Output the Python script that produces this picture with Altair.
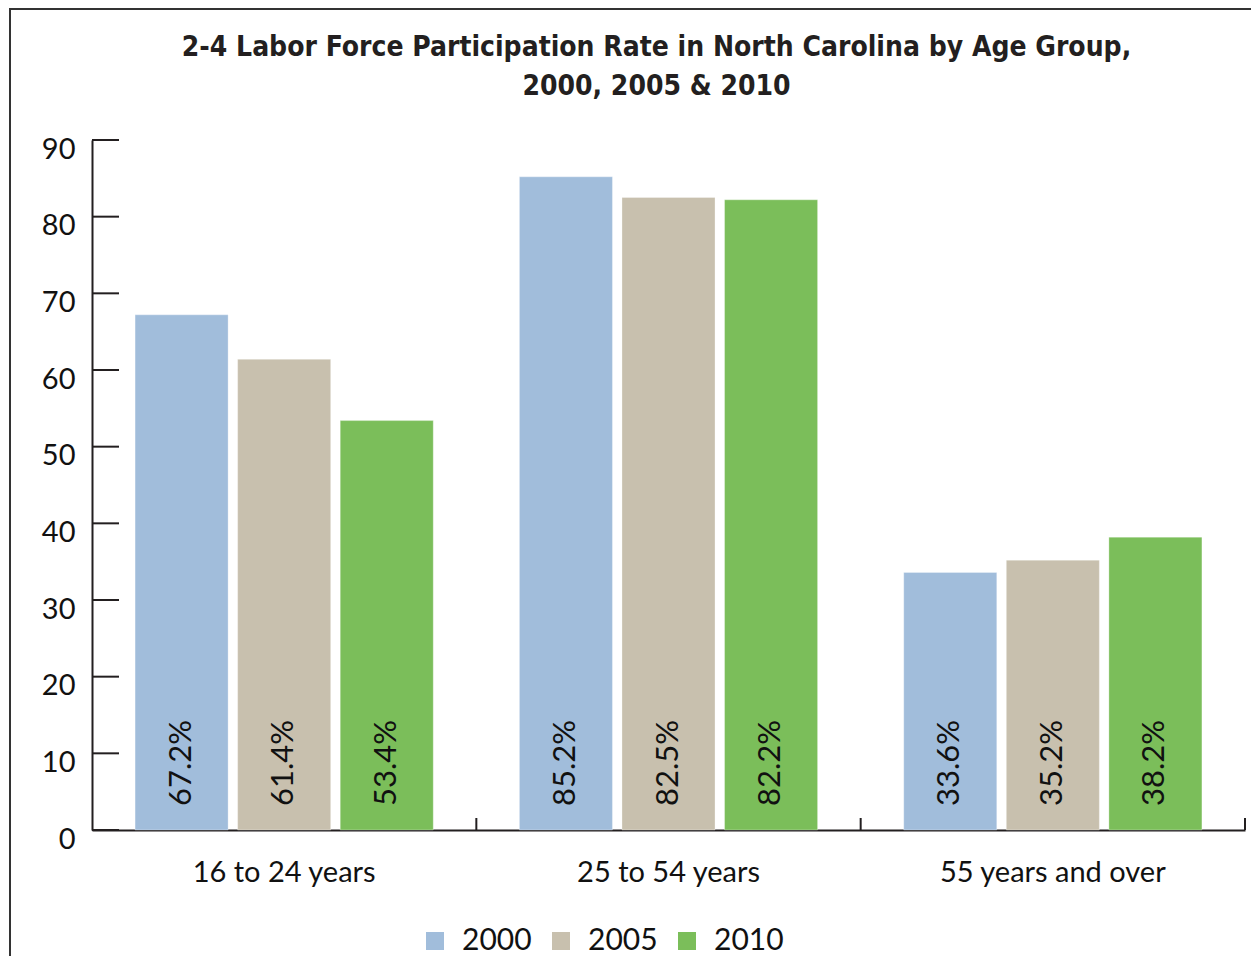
import altair as alt
import pandas as pd

groups = ["16 to 24 years", "25 to 54 years", "55 years and over"]
years = ["2000", "2005", "2010"]
values = {
    "2000": [67.2, 85.2, 33.6],
    "2005": [61.4, 82.5, 35.2],
    "2010": [53.4, 82.2, 38.2],
}
colors = ["#A1BDDB", "#C8C0AE", "#7BBE5A"]
y_ticks = [0, 10, 20, 30, 40, 50, 60, 70, 80, 90]
title_lines = ["2-4 Labor Force Participation Rate in North Carolina by Age Group,",
               "2000, 2005 & 2010"]

rows = []
for y in years:
    for g, v in zip(groups, values[y]):
        rows.append({"group": g, "year": y, "value": v, "label": f"{v:.1f}%"})
df = pd.DataFrame(rows)

AX = "#231f20"
FONT = "Lato"
W, H = 1153, 690

x_scale = alt.Scale(domain=groups, paddingInner=0, paddingOuter=0)
y_scale = alt.Scale(domain=[0, 90], nice=False, zero=True)

x_enc = alt.X("group:N", sort=groups, title=None, scale=x_scale,
              axis=alt.Axis(ticks=False, domainColor=AX, domainWidth=2, labelAngle=0,
                            labelFontSize=29, labelFont=FONT, labelColor="#111",
                            labelPadding=28, labelLimit=0, grid=False, title=None))
xo_enc = alt.XOffset("year:N", sort=years,
                     scale=alt.Scale(domain=years, paddingInner=0.093, paddingOuter=0.42))

bars = alt.Chart(df).mark_bar(stroke="white", strokeOpacity=0.3, strokeWidth=1).encode(
    x=x_enc,
    xOffset=xo_enc,
    y=alt.Y("value:Q", scale=y_scale, title=None,
            axis=alt.Axis(values=y_ticks, ticks=False, domainColor=AX, domainWidth=2,
                          labelFontSize=29, labelFont=FONT, labelColor="#111",
                          labelPadding=17, labelBaseline="top", labelOffset=-5,
                          labelFlush=False, grid=False, title=None)),
    color=alt.Color("year:N", sort=years,
                    scale=alt.Scale(domain=years, range=colors),
                    legend=alt.Legend(title=None, orient="none", direction="horizontal",
                                      legendX=328, legendY=786,
                                      symbolType="square", symbolSize=324,
                                      symbolStrokeWidth=0, labelFontSize=30,
                                      labelFont=FONT, labelColor="#111",
                                      labelOffset=12, columnPadding=14)),
)

texts = alt.Chart(df).mark_text(angle=270, align="left", baseline="middle", dx=24,
                                fontSize=31, font=FONT, color="#111").encode(
    x=alt.X("group:N", sort=groups, title=None),
    xOffset=alt.XOffset("year:N", sort=years),
    y=alt.datum(0),
    text="label:N",
)

ytick_df = pd.DataFrame({"v": y_ticks})
yticks = alt.Chart(ytick_df).mark_rule(color=AX, strokeWidth=2).encode(
    y=alt.Y("v:Q", title=None),
    x=alt.value(0),
    x2=alt.value(27),
)

xtick_df = pd.DataFrame({"group": groups})
xticks = alt.Chart(xtick_df).mark_rule(color=AX, strokeWidth=2).encode(
    x=alt.X("group:N", sort=groups, bandPosition=1, title=None),
    y=alt.value(H - 12),
    y2=alt.value(H),
)

frame = alt.Chart(pd.DataFrame({"a": [0]})).mark_rect(
    fill=None, fillOpacity=0, stroke="#333", strokeWidth=2).encode(
    x=alt.value(-82), x2=alt.value(1250),
    y=alt.value(-131), y2=alt.value(900),
)

chart = alt.layer(frame, bars, texts, yticks, xticks).properties(
    width=W, height=H,
    padding={"left": 84, "top": 132, "right": 6, "bottom": 126},
    autosize=alt.AutoSizeParams(type="none"),
    title=alt.TitleParams(text=title_lines, fontSize=28, fontWeight="bold",
                          font="Liberation Sans Narrow, DejaVu Sans Condensed, Roboto Condensed, sans-serif",
                          color="#231f20", anchor="middle", frame="group",
                          offset=-93, lineHeight=39, dx=-12),
).configure_view(stroke=None)

chart.save("out.html", embed_options={"renderer": "svg", "actions": False})
